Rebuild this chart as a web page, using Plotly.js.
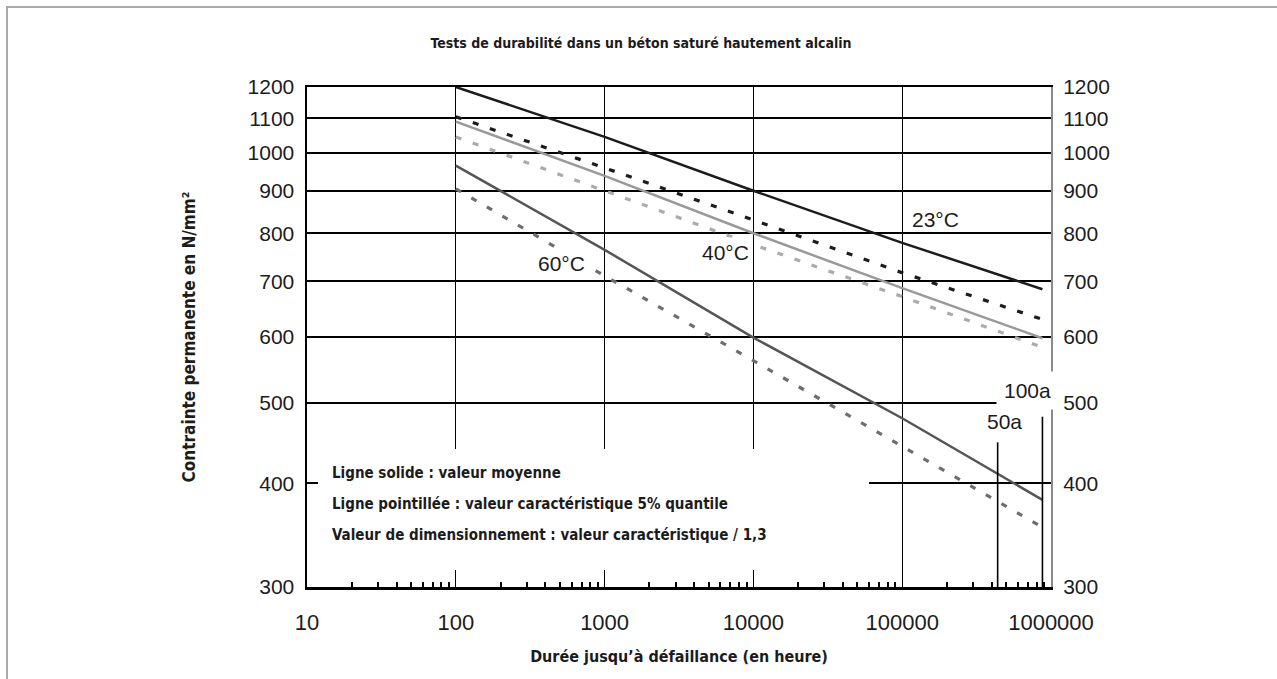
<!DOCTYPE html>
<html>
<head>
<meta charset="utf-8">
<script src="https://cdn.plot.ly/plotly-3.0.1.min.js"></script>
<style>
  html, body { margin: 0; padding: 0; background: #fff; }
  #chart { width: 1277px; height: 679px; }
</style>
</head>
<body>
<div id="chart"></div>
<script>
// ---- Data ----
const hours = [100, 1000, 10000, 100000, 876000];
const solid23 = [1200, 1045, 900, 779, 685];
const dotted23 = [1105, 959, 830, 717, 630];
const solid40 = [1090, 938, 800, 687, 598];
const dotted40 = [1045, 900, 775, 671, 583];
const solid60 = [965, 764, 599, 479, 382];
const dotted60 = [905, 711, 562, 443, 354];

const lifeHours = [438000, 876000];        // 50a, 100a
const lifeTop = [448, 481];                // top of the vertical markers
const lifeLabels = ['50a', '100a'];

const xTickVals = [10, 100, 1000, 10000, 100000, 1000000];
const xTickText = ['10', '100', '1000', '10000', '100000', '1000000'];
const yTickVals = [300, 400, 500, 600, 700, 800, 900, 1000, 1100, 1200];
const yTickText = ['300', '400', '500', '600', '700', '800', '900', '1000', '1100', '1200'];
const minorX = [];
[10, 100, 1000, 10000, 100000].forEach(d => { for (let k = 2; k <= 9; k++) minorX.push(d * k); });

const tempLabels = ['23°C', '40°C', '60°C'];
const notes = [
  'Ligne solide : valeur moyenne',
  'Ligne pointillée : valeur caractéristique 5% quantile',
  'Valeur de dimensionnement : valeur caractéristique / 1,3'
];

// ---- Styling ----
const NUM_FONT = 'Liberation Sans, Arial, Helvetica, sans-serif';
const COND_FONT = 'Liberation Sans Narrow, DejaVu Sans Condensed, Arial Narrow, Liberation Sans, sans-serif';
const DASH = '6px,12px';

function line(y, color, dash, width) {
  return { x: hours, y: y, type: 'scatter', mode: 'lines', hoverinfo: 'skip',
           line: { color: color, width: width, dash: dash } };
}

const traces = [
  line(dotted60, '#6e6e6e', DASH, 3.2),
  line(dotted40, '#ababab', DASH, 3.2),
  line(dotted23, '#1c1c1c', DASH, 3.2),
  line(solid60, '#555555', 'solid', 2.5),
  line(solid40, '#999999', 'solid', 2.5),
  line(solid23, '#1c1c1c', 'solid', 2.5),
];
lifeHours.forEach((h, i) => {
  traces.push({ x: [h, h], y: [300, lifeTop[i]], type: 'scatter', mode: 'lines', hoverinfo: 'skip',
                line: { color: '#000', width: 1.6 } });
});
// trace to establish the right-hand axis
traces.push({ x: [10], y: [300], yaxis: 'y2', type: 'scatter', mode: 'markers',
              marker: { opacity: 0 }, hoverinfo: 'skip' });

const yRange = [Math.log10(300), Math.log10(1200)];

// pixel helpers for annotation placement (plot area 307..1051 x 87..587)
const L = 307, R = 1051, T = 87, B = 587;
const px = (x) => (x - L) / (R - L);
const py = (y) => (B - y) / (B - T);

const annotations = [];
const tempPos = [[935, 219], [725, 253], [561, 263]];
const tempBg = ['rgba(0,0,0,0)', '#fff', '#fff'];
const tempPad = [3, 3, 2];
tempLabels.forEach((t, i) => annotations.push({
  xref: 'paper', yref: 'paper', x: px(tempPos[i][0]), y: py(tempPos[i][1]),
  xanchor: 'center', yanchor: 'middle',
  text: t, showarrow: false, bgcolor: tempBg[i], borderpad: tempPad[i],
  font: { family: NUM_FONT, size: 21, color: '#1c1c1c' }
}));
const lifePos = [[1004, 422], [1027, 390]];
lifeLabels.forEach((t, i) => annotations.push({
  xref: 'paper', yref: 'paper', x: px(lifePos[i][0]), y: py(lifePos[i][1]),
  xanchor: 'center', yanchor: 'middle',
  text: t, showarrow: false, bgcolor: '#fff', borderpad: i === 1 ? 7 : 2,
  font: { family: NUM_FONT, size: 21, color: '#1c1c1c' }
}));
const noteY = [473, 504, 535];
notes.forEach((t, i) => annotations.push({
  xref: 'paper', yref: 'paper', x: px(330), y: py(noteY[i]), xanchor: 'left', yanchor: 'middle',
  text: '<b>' + t + '</b>', showarrow: false,
  font: { family: COND_FONT, size: 15, color: '#1c1c1c' }
}));

const layout = {
  width: 1277, height: 679,
  margin: { l: L, r: 1277 - R, t: T, b: 679 - B, pad: 0 },
  paper_bgcolor: '#fff', plot_bgcolor: '#fff',
  showlegend: false,
  title: {
    text: '<b>Tests de durabilité dans un béton saturé hautement alcalin</b>',
    font: { family: COND_FONT, size: 14, color: '#1c1c1c' },
    xref: 'container', x: 0.502, xanchor: 'center',
    yref: 'container', y: 1 - 43 / 679, yanchor: 'middle'
  },
  xaxis: {
    type: 'log', range: [1, 6],
    tickmode: 'array', tickvals: xTickVals, ticktext: xTickText,
    ticks: '', ticklabelstandoff: 14,
    tickfont: { family: NUM_FONT, size: 22, color: '#1c1c1c' },
    showgrid: true, gridcolor: '#000', gridwidth: 1,
    showline: true, linecolor: '#000', linewidth: 2.5, mirror: true,
    zeroline: false,
    minor: { tickmode: 'array', tickvals: minorX, ticks: 'inside', ticklen: 5, tickwidth: 2,
             tickcolor: '#000', showgrid: false },
    title: { text: '<b>Durée jusqu’à défaillance (en heure)</b>', standoff: 17,
             font: { family: COND_FONT, size: 16, color: '#1c1c1c' } }
  },
  yaxis: {
    type: 'log', range: yRange,
    tickmode: 'array', tickvals: yTickVals, ticktext: yTickText,
    ticks: '', ticklabelstandoff: 6,
    tickfont: { family: NUM_FONT, size: 21, color: '#1c1c1c' },
    showgrid: true, gridcolor: '#000', gridwidth: 2,
    showline: true, linecolor: '#000', linewidth: 2.5,
    zeroline: false,
    title: { text: '<b>Contrainte permanente en N/mm²</b>', standoff: 48,
             font: { family: COND_FONT, size: 17, color: '#1c1c1c' } }
  },
  yaxis2: {
    type: 'log', range: yRange, overlaying: 'y', side: 'right',
    tickmode: 'array', tickvals: yTickVals, ticktext: yTickText,
    ticks: '', ticklabelstandoff: 6,
    tickfont: { family: NUM_FONT, size: 21, color: '#1c1c1c' },
    showgrid: false, showline: true, linecolor: '#8a8a8a', linewidth: 2, zeroline: false
  },
  shapes: [
    // white panel behind the notes
    { type: 'rect', xref: 'paper', yref: 'paper', x0: px(318), x1: px(869), y0: py(570), y1: py(449),
      fillcolor: '#fff', line: { width: 0 }, layer: 'above' },
    // outer light frame
    { type: 'rect', xref: 'paper', yref: 'paper', x0: px(7), x1: px(1400), y0: py(760), y1: py(7),
      fillcolor: 'rgba(0,0,0,0)', line: { color: '#aaaaaa', width: 2 }, layer: 'below' }
  ],
  annotations: annotations
};

Plotly.newPlot('chart', traces, layout, { displayModeBar: false, staticPlot: true });
</script>
</body>
</html>
